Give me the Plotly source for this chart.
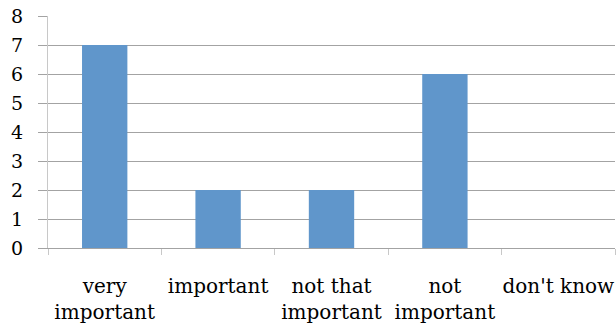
import plotly.graph_objects as go

categories = ["very<br>important", "important", "not that<br>important", "not<br>important", "don't know"]
counts = [7, 2, 2, 6, 0]
y_ticks = [0, 1, 2, 3, 4, 5, 6, 7, 8]

BAR = "#6096cb"
GRID = "#a3a3a3"
FONT = "DejaVu Serif"

fig = go.Figure(go.Bar(x=categories, y=counts, marker=dict(color=BAR, line=dict(width=0)), width=0.4))

fig.update_layout(
    width=616, height=326,
    margin=dict(l=48, r=1, t=16, b=78),
    plot_bgcolor="white", paper_bgcolor="white",
    showlegend=False,
    font=dict(family=FONT, size=17, color="black"),
)
fig.update_xaxes(
    showline=True, linecolor=GRID, linewidth=1,
    ticks="outside", tickson="boundaries", ticklen=6, tickcolor="#c8c8c8", tickwidth=1,
    showgrid=False, tickfont=dict(family=FONT, size=20),
    tickangle=0, automargin=False,
    ticklabelstandoff=20,
)
fig.update_yaxes(
    range=[0, 8], tickvals=y_ticks,
    showgrid=True, gridcolor=GRID, gridwidth=1,
    zeroline=True, zerolinecolor=GRID, zerolinewidth=1,
    showline=True, linecolor="#c8c8c8", linewidth=1,
    ticks="outside", ticklen=9, tickcolor=GRID,
    ticklabelstandoff=11, automargin=False,
    tickfont=dict(family=FONT, size=19),
)

fig.write_html("out.html")
